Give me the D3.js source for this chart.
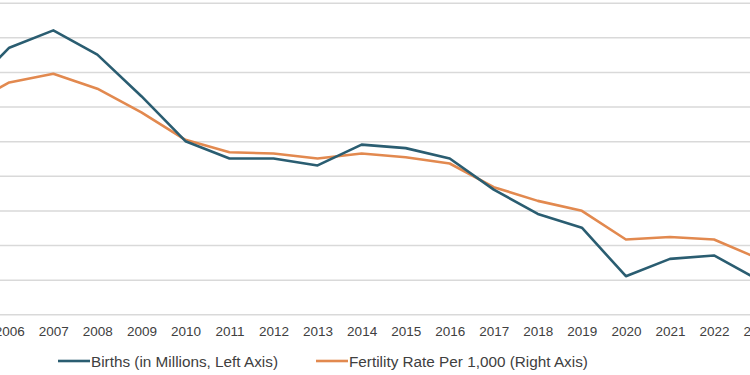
<!DOCTYPE html>
<html>
<head>
<meta charset="utf-8">
<script src="https://cdn.jsdelivr.net/npm/d3@7"></script>
<style>
  html, body { margin: 0; padding: 0; background: #fff; overflow: hidden; }
  svg { display: block; font-family: "Liberation Sans", Arial, sans-serif; }
</style>
</head>
<body>
<svg id="chart" width="750" height="375"></svg>
<script>
// ---- data ----
const years = [2005, 2006, 2007, 2008, 2009, 2010, 2011, 2012, 2013, 2014, 2015, 2016, 2017, 2018, 2019, 2020, 2021, 2022, 2023];
const births = [4.14, 4.27, 4.32, 4.25, 4.13, 4.00, 3.95, 3.95, 3.93, 3.99, 3.98, 3.95, 3.86, 3.79, 3.75, 3.61, 3.66, 3.67, 3.60];
const fertility = [66.7, 68.6, 69.3, 68.1, 66.2, 64.0, 63.0, 62.9, 62.5, 62.9, 62.6, 62.1, 60.2, 59.1, 58.3, 56.0, 56.2, 56.0, 54.5];
const tickYears = [2006, 2007, 2008, 2009, 2010, 2011, 2012, 2013, 2014, 2015, 2016, 2017, 2018, 2019, 2020, 2021, 2022, 2023];
const leftTicks = [3.5, 3.6, 3.7, 3.8, 3.9, 4.0, 4.1, 4.2, 4.3, 4.4];
const seriesNames = ["Births (in Millions, Left Axis)", "Fertility Rate Per 1,000 (Right Axis)"];
const colors = ["#2a5d71", "#e2894f"];

const svg = d3.select("#chart");

const x = d3.scaleLinear().domain([2007, 2022]).range([53.3, 714]);
const yL = d3.scaleLinear().domain([3.5, 4.4]).range([314.3, 2.7]);
const yR = d3.scaleLinear().domain([50, 75]).range([314.3, 2.7]);

// gridlines
const grid = svg.append("g")
  .call(d3.axisLeft(yL).tickValues(leftTicks).tickSize(-800).tickFormat(""))
  .attr("transform", "translate(-20,0)");
grid.select(".domain").remove();
grid.selectAll("line").attr("stroke", "#d9d9d9").attr("stroke-width", 1.5);

// x axis labels
const xAxis = svg.append("g")
  .attr("transform", "translate(0,314.3)")
  .call(d3.axisBottom(x).tickValues(tickYears).tickSize(0).tickPadding(12).tickFormat(d3.format("d")));
xAxis.select(".domain").remove();
xAxis.selectAll("text")
  .attr("fill", "#404040")
  .style("font-size", "13.5px")
  .style("font-family", "'Liberation Sans', Arial, sans-serif");

// lines
const lineL = d3.line().x((d, i) => x(years[i])).y(d => yL(d));
const lineR = d3.line().x((d, i) => x(years[i])).y(d => yR(d));

svg.append("path").datum(fertility)
  .attr("d", lineR).attr("fill", "none")
  .attr("stroke", colors[1]).attr("stroke-width", 2.6)
  .attr("stroke-linejoin", "round");

svg.append("path").datum(births)
  .attr("d", lineL).attr("fill", "none")
  .attr("stroke", colors[0]).attr("stroke-width", 2.6)
  .attr("stroke-linejoin", "round");

// legend
const legendX = [58, 316];
seriesNames.forEach((name, i) => {
  const g = svg.append("g").attr("transform", `translate(${legendX[i]},361)`);
  g.append("line").attr("x1", 0).attr("x2", 32).attr("y1", 0).attr("y2", 0)
    .attr("stroke", colors[i]).attr("stroke-width", 2.6);
  g.append("text").attr("x", 33).attr("y", 5.5)
    .attr("fill", "#404040")
    .style("font-size", "15.3px")
    .text(name);
});
</script>
</body>
</html>
